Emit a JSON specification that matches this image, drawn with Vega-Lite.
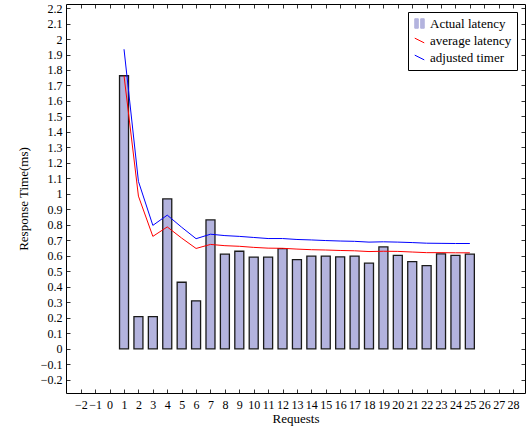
{
  "$schema": "https://vega.github.io/schema/vega-lite/v6.json",
  "width": 459,
  "height": 389,
  "autosize": {"type": "none"},
  "padding": {"left": 66, "top": 4, "right": 6, "bottom": 36},
  "background": "white",
  "config": {
    "font": "Liberation Serif",
    "view": {"stroke": "black", "strokeWidth": 1},
    "axis": {
      "domain": false,
      "grid": false,
      "tickColor": "black",
      "tickWidth": 0.8,
      "labelColor": "black",
      "labelFont": "Liberation Serif",
      "labelFontSize": 12,
      "titleFont": "Liberation Serif",
      "titleFontSize": 13,
      "titleFontWeight": "normal",
      "titleColor": "black"
    },
    "legend": {
      "title": null,
      "orient": "top-right",
      "offset": 8,
      "padding": 5,
      "strokeColor": "black",
      "fillColor": "white",
      "labelFont": "Liberation Serif",
      "labelFontSize": 13,
      "labelColor": "black",
      "rowPadding": 3,
      "symbolSize": 90
    }
  },
  "data": {
    "values": [
      {"req": 1, "latency": 1.763, "average latency": 1.763, "adjusted timer": 1.934},
      {"req": 2, "latency": 0.208, "average latency": 0.986, "adjusted timer": 1.081},
      {"req": 3, "latency": 0.208, "average latency": 0.726, "adjusted timer": 0.797},
      {"req": 4, "latency": 0.968, "average latency": 0.787, "adjusted timer": 0.863},
      {"req": 5, "latency": 0.43, "average latency": 0.715, "adjusted timer": 0.785},
      {"req": 6, "latency": 0.31, "average latency": 0.648, "adjusted timer": 0.711},
      {"req": 7, "latency": 0.832, "average latency": 0.674, "adjusted timer": 0.74},
      {"req": 8, "latency": 0.611, "average latency": 0.666, "adjusted timer": 0.731},
      {"req": 9, "latency": 0.63, "average latency": 0.662, "adjusted timer": 0.726},
      {"req": 10, "latency": 0.592, "average latency": 0.655, "adjusted timer": 0.719},
      {"req": 11, "latency": 0.592, "average latency": 0.65, "adjusted timer": 0.712},
      {"req": 12, "latency": 0.647, "average latency": 0.649, "adjusted timer": 0.712},
      {"req": 13, "latency": 0.576, "average latency": 0.644, "adjusted timer": 0.706},
      {"req": 14, "latency": 0.598, "average latency": 0.64, "adjusted timer": 0.703},
      {"req": 15, "latency": 0.598, "average latency": 0.638, "adjusted timer": 0.699},
      {"req": 16, "latency": 0.594, "average latency": 0.635, "adjusted timer": 0.696},
      {"req": 17, "latency": 0.598, "average latency": 0.633, "adjusted timer": 0.694},
      {"req": 18, "latency": 0.553, "average latency": 0.628, "adjusted timer": 0.689},
      {"req": 19, "latency": 0.658, "average latency": 0.63, "adjusted timer": 0.691},
      {"req": 20, "latency": 0.604, "average latency": 0.629, "adjusted timer": 0.689},
      {"req": 21, "latency": 0.563, "average latency": 0.625, "adjusted timer": 0.686},
      {"req": 22, "latency": 0.537, "average latency": 0.621, "adjusted timer": 0.682},
      {"req": 23, "latency": 0.613, "average latency": 0.621, "adjusted timer": 0.681},
      {"req": 24, "latency": 0.604, "average latency": 0.62, "adjusted timer": 0.68},
      {"req": 25, "latency": 0.611, "average latency": 0.62, "adjusted timer": 0.68}
    ]
  },
  "layer": [
    {
      "mark": {"type": "bar", "size": 9, "stroke": "#1a1a1a", "strokeWidth": 1.3},
      "encoding": {
        "x": {
          "field": "req",
          "type": "quantitative",
          "scale": {"domain": [-2.68, 28.48], "nice": false, "zero": false},
          "axis": {
            "orient": "bottom",
            "values": [-2, -1, 0, 1, 2, 3, 4, 5, 6, 7, 8, 9, 10, 11, 12, 13, 14, 15, 16, 17, 18, 19, 20, 21, 22, 23, 24, 25, 26, 27, 28],
            "format": "d",
            "tickSize": -4,
            "labelPadding": 10,
            "title": "Requests",
            "titlePadding": 2
          }
        },
        "y": {
          "field": "latency",
          "type": "quantitative",
          "scale": {"domain": [-0.285, 2.226], "nice": false, "zero": false},
          "axis": {
            "orient": "left",
            "values": [-0.2, -0.1, 0, 0.1, 0.2, 0.3, 0.4, 0.5, 0.6, 0.7, 0.8, 0.9, 1, 1.1, 1.2, 1.3, 1.4, 1.5, 1.6, 1.7, 1.8, 1.9, 2, 2.1, 2.2],
            "format": ".1~f",
            "tickSize": -4,
            "labelPadding": 8,
            "title": "Response Time(ms)",
            "titlePadding": 10
          }
        },
        "y2": {"datum": 0},
        "color": {
          "datum": "Actual latency",
          "type": "nominal",
          "scale": {
            "domain": ["Actual latency", "average latency", "adjusted timer"],
            "range": ["#b3b3de", "#ff0000", "#0000ff"]
          },
          "legend": {
            "title": null,
            "encode": {
              "symbols": {
                "update": {
                  "shape": {"signal": "datum.value === 'Actual latency' ? 'M-1,-1H-0.25V1H-1Z M0.25,-1H1V1H0.25Z' : 'M-1,-0.5L1,0.5'"},
                  "fill": {"value": "#4a4a80"},
                  "stroke": {"signal": "datum.value === 'Actual latency' ? '#111111' : (datum.value === 'average latency' ? '#ff0000' : '#0000ff')"},
                  "strokeWidth": {"value": 1},
                  "opacity": {"value": 1}
                }
              }
            }
          }
        }
      }
    },
    {
      "transform": [
        {"fold": ["average latency", "adjusted timer"], "as": ["series", "value"]}
      ],
      "mark": {"type": "line", "strokeWidth": 1},
      "encoding": {
        "x": {
          "field": "req",
          "type": "quantitative",
          "axis": {
            "orient": "top",
            "values": [-2, -1, 0, 1, 2, 3, 4, 5, 6, 7, 8, 9, 10, 11, 12, 13, 14, 15, 16, 17, 18, 19, 20, 21, 22, 23, 24, 25, 26, 27, 28],
            "labels": false,
            "tickSize": -4,
            "title": null
          }
        },
        "y": {
          "field": "value",
          "type": "quantitative",
          "axis": {
            "orient": "right",
            "values": [-0.2, -0.1, 0, 0.1, 0.2, 0.3, 0.4, 0.5, 0.6, 0.7, 0.8, 0.9, 1, 1.1, 1.2, 1.3, 1.4, 1.5, 1.6, 1.7, 1.8, 1.9, 2, 2.1, 2.2],
            "labels": false,
            "tickSize": -4,
            "title": null
          }
        },
        "color": {
          "field": "series",
          "type": "nominal",
          "legend": {
            "title": null,
            "encode": {
              "symbols": {
                "update": {
                  "shape": {"signal": "datum.value === 'Actual latency' ? 'M-1,-1H-0.25V1H-1Z M0.25,-1H1V1H0.25Z' : 'M-1,-0.5L1,0.5'"},
                  "fill": {"value": "#4a4a80"},
                  "stroke": {"signal": "datum.value === 'Actual latency' ? '#111111' : (datum.value === 'average latency' ? '#ff0000' : '#0000ff')"},
                  "strokeWidth": {"value": 1},
                  "opacity": {"value": 1}
                }
              }
            }
          }
        }
      }
    }
  ],
  "resolve": {"axis": {"x": "independent", "y": "independent"}}
}
